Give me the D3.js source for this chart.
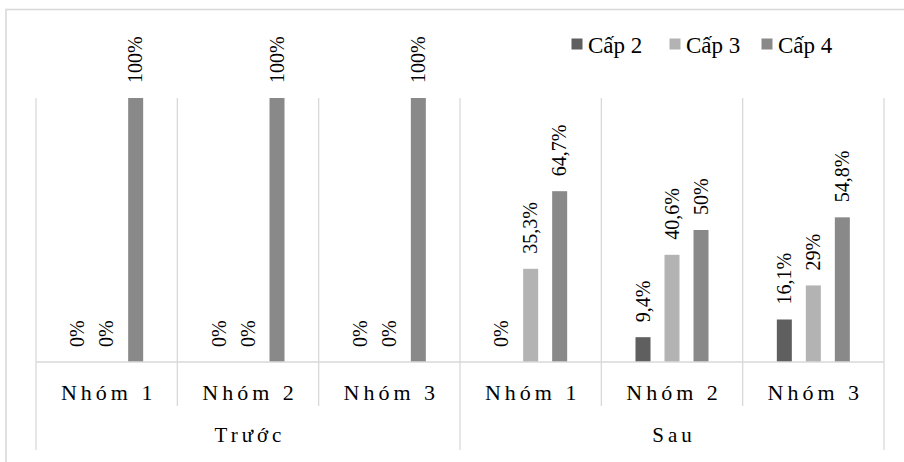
<!DOCTYPE html>
<html>
<head>
<meta charset="utf-8">
<script src="https://cdn.jsdelivr.net/npm/d3@7"></script>
<style>
  html, body { margin: 0; padding: 0; background: #fff; }
  svg text { font-family: "Liberation Serif", "Times New Roman", Times, "DejaVu Serif", serif; }
</style>
</head>
<body>
<svg id="chart" width="904" height="462"></svg>
<script>
// ---- data ----
const periods = ["Trước", "Sau"];
const groups = ["Nhóm 1", "Nhóm 2", "Nhóm 3"];
const series = ["Cấp 2", "Cấp 3", "Cấp 4"];
const cap2 = [0, 0, 0, 0, 9.4, 16.1];
const cap3 = [0, 0, 0, 35.3, 40.6, 29];
const cap4 = [100, 100, 100, 64.7, 50, 54.8];
const labels2 = ["0%", "0%", "0%", "0%", "9,4%", "16,1%"];
const labels3 = ["0%", "0%", "0%", "35,3%", "40,6%", "29%"];
const labels4 = ["100%", "100%", "100%", "64,7%", "50%", "54,8%"];
const colors = ["#5f5f5f", "#b3b3b3", "#898989"];

(function () {
const FONT = "'Liberation Serif', 'Times New Roman', Times, 'DejaVu Serif', serif";
const svg = d3.select("#chart").attr("font-family", FONT);
const gridColor = "#d9d9d9";

// outer chart border (extends beyond window on right/bottom)
svg.append("rect").attr("x", 6).attr("y", 9.5).attr("width", 1000).attr("height", 600)
  .attr("fill", "none").attr("stroke", gridColor).attr("stroke-width", 1.6);

const plotLeft = 36, plotRight = 884, plotTop = 98, base = 362;
const cats = [];
periods.forEach(p => groups.forEach(g => cats.push(p + "|" + g)));

const x0 = d3.scaleBand().domain(cats).range([plotLeft, plotRight]).paddingInner(0).paddingOuter(0);
const x1 = d3.scaleBand().domain(series).range([0, x0.bandwidth()])
  .paddingInner(14 / 29).paddingOuter(1.178);
const y = d3.scaleLinear().domain([0, 100]).range([base, plotTop]);

const vals = [cap2, cap3, cap4];
const labs = [labels2, labels3, labels4];

// vertical separators
cats.forEach((c, i) => {
  const xl = x0(c);
  const outer = (i % 3 === 0);
  svg.append("line").attr("x1", xl).attr("x2", xl).attr("y1", plotTop)
    .attr("y2", outer ? 450 : 406).attr("stroke", gridColor).attr("stroke-width", 1.3);
});
svg.append("line").attr("x1", plotRight).attr("x2", plotRight).attr("y1", plotTop).attr("y2", 450)
  .attr("stroke", gridColor).attr("stroke-width", 1.3);

// bars
series.forEach((s, si) => {
  svg.append("g").selectAll("rect").data(cats).join("rect")
    .attr("x", (c) => x0(c) + x1(s))
    .attr("width", x1.bandwidth())
    .attr("y", (c, i) => y(vals[si][i]))
    .attr("height", (c, i) => base - y(vals[si][i]))
    .attr("fill", colors[si]);
});

// axis baseline
svg.append("line").attr("x1", plotLeft).attr("x2", plotRight).attr("y1", base).attr("y2", base)
  .attr("stroke", gridColor).attr("stroke-width", 1.5);

// data labels
series.forEach((s, si) => {
  svg.append("g").selectAll("text").data(cats).join("text")
    .attr("font-family", FONT)
    .attr("transform", (c, i) => {
      const cx = x0(c) + x1(s) + x1.bandwidth() / 2 + 6.8;
      const yy = y(vals[si][i]) - 15;
      return `translate(${cx},${yy}) rotate(-90)`;
    })
    .attr("text-anchor", "start")
    .attr("font-size", 20)
    .attr("fill", "#000")
    .text((c, i) => labs[si][i]);
});

// category labels
cats.forEach((c, i) => {
  svg.append("text")
    .attr("font-family", FONT)
    .attr("x", x0(c) + x0.bandwidth() / 2 + 2)
    .attr("y", 400)
    .attr("text-anchor", "middle")
    .attr("font-size", 22)
    .attr("letter-spacing", 4)
    .attr("fill", "#000")
    .text(groups[i % 3]);
});
periods.forEach((p, pi) => {
  const a = x0(cats[pi * 3]);
  const b = x0(cats[pi * 3 + 2]) + x0.bandwidth();
  svg.append("text")
    .attr("font-family", FONT)
    .attr("x", (a + b) / 2 + 2)
    .attr("y", 442)
    .attr("text-anchor", "middle")
    .attr("font-size", 21)
    .attr("letter-spacing", 4)
    .attr("fill", "#000")
    .text(p);
});

// legend
const legX = [571.5, 669.5, 761.5];
series.forEach((s, si) => {
  svg.append("rect").attr("x", legX[si]).attr("y", 38.5).attr("width", 11).attr("height", 11)
    .attr("fill", colors[si]);
  svg.append("text").attr("font-family", FONT).attr("x", legX[si] + 16.5).attr("y", 53)
    .attr("font-size", 23).attr("fill", "#000").text(s);
});
})();
</script>
</body>
</html>
